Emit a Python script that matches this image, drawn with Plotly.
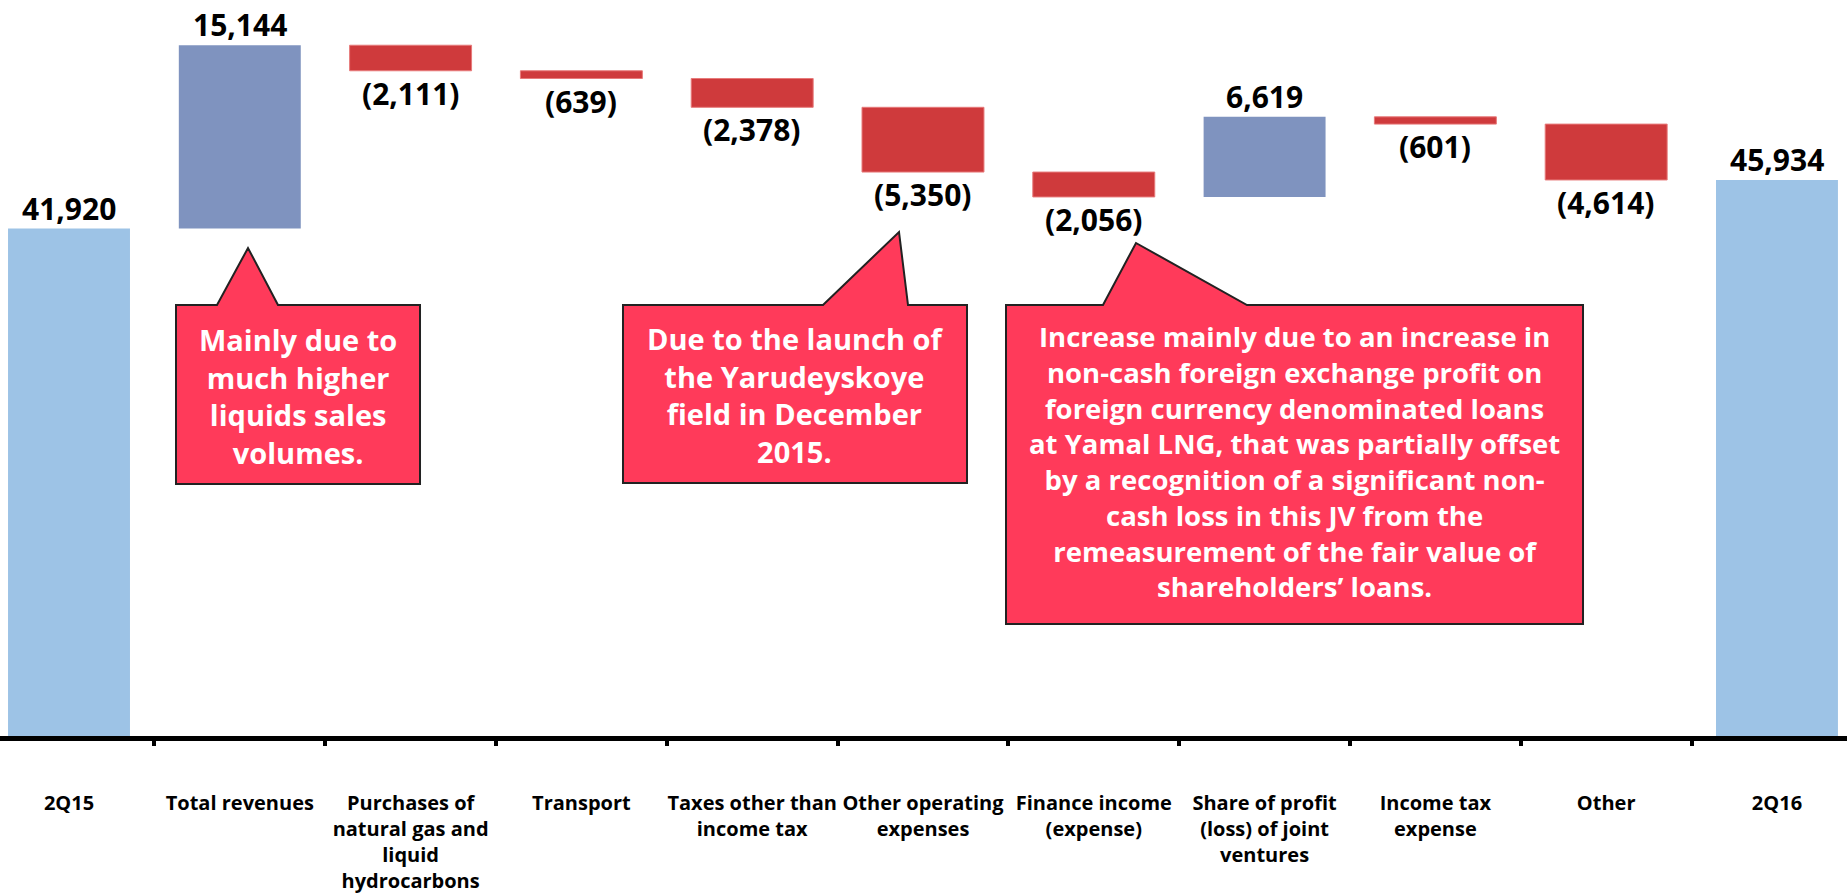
import plotly.graph_objects as go

# ---------------- data ----------------
categories = ["2Q15", "Total revenues", "Purchases", "Transport", "Taxes other",
              "Other operating", "Finance income", "Share of JV", "Income tax",
              "Other", "2Q16"]
tick_labels = ["2Q15", "Total revenues",
               "Purchases of<br>natural gas and<br>liquid<br>hydrocarbons",
               "Transport", "Taxes other than<br>income tax",
               "Other operating<br>expenses", "Finance income<br>(expense)",
               "Share of profit<br>(loss) of joint<br>ventures",
               "Income tax<br>expense", "Other", "2Q16"]
values = [41920, 15144, -2111, -639, -2378, -5350, -2056, 6619, -601, -4614, 45934]
measures = ["absolute", "relative", "relative", "relative", "relative", "relative",
            "relative", "relative", "relative", "relative", "total"]

callout_texts = [
    "Mainly due to<br>much higher<br>liquids sales<br>volumes.",
    "Due to the launch of<br>the Yarudeyskoye<br>field in December<br>2015.",
    "Increase mainly due to an increase in<br>non-cash foreign exchange profit on<br>"
    "foreign currency denominated loans<br>at Yamal LNG, that was partially offset<br>"
    "by a recognition of a significant non-<br>cash loss in this JV from the<br>"
    "remeasurement of the fair value of<br>shareholders\u2019 loans.",
]

# ---------------- styles ----------------
C_TOTAL = "#9DC3E6"
C_UP = "#7F93BF"
C_DOWN = "#CF3A3C"
C_CALLOUT = "#FF3A5A"
FONT = "Open Sans"

W, H = 1847, 893
M_B = 157
PLOT_H = H - M_B
PLOT_W = W

# waterfall geometry from the values
bases, heights, colors, lcolors, lwidths, labels = [], [], [], [], [], []
running = 0
for v, m in zip(values, measures):
    if m == "absolute":
        bases.append(0); heights.append(v); running = v
        colors.append(C_TOTAL); lcolors.append(C_TOTAL); lwidths.append(0)
    elif m == "total":
        bases.append(0); heights.append(v)
        colors.append(C_TOTAL); lcolors.append(C_TOTAL); lwidths.append(0)
    else:
        bases.append(running); heights.append(v); running += v
        if v >= 0:
            colors.append(C_UP); lcolors.append(C_UP); lwidths.append(0)
        else:
            colors.append(C_DOWN); lcolors.append("#E77A7A"); lwidths.append(1)
    labels.append(f"{v:,}" if v >= 0 else f"({-v:,})")

fig = go.Figure()
fig.add_trace(go.Bar(
    x=categories, y=heights, base=bases,
    width=0.714,
    marker=dict(color=colors, line=dict(color=lcolors, width=lwidths)),
    cliponaxis=False, hoverinfo="skip", showlegend=False,
))

annotations = []
# value labels at the end of each bar
for cat, b, h, lab in zip(categories, bases, heights, labels):
    end = b + h
    pos = h >= 0
    annotations.append(dict(
        x=cat, y=end, xref="x", yref="y", text=lab, showarrow=False,
        xanchor="center", yanchor="bottom" if pos else "top",
        yshift=-2 if pos else 0,
        font=dict(family=FONT, size=30, color="black", weight=700)))


def px(xp):
    return xp / PLOT_W


def py(yp):
    return 1 - yp / PLOT_H


def path(points):
    return "M " + " L ".join(f"{px(a):.5f},{py(b):.5f}" for a, b in points) + " Z"


callouts = [
    dict(l=176, r=420, t=305, b=484, bl=217, ax=248, ay=248, br=278, fs=29, dy=1),
    dict(l=623, r=967, t=305, b=483, bl=823, ax=899, ay=232, br=908, fs=29, dy=1),
    dict(l=1006, r=1583, t=305, b=624, bl=1103, ax=1136, ay=243, br=1247, fs=27.5, dy=-3),
]
shapes = []
for c, txt in zip(callouts, callout_texts):
    pts = [(c["l"], c["t"]), (c["bl"], c["t"]), (c["ax"], c["ay"]), (c["br"], c["t"]),
           (c["r"], c["t"]), (c["r"], c["b"]), (c["l"], c["b"])]
    shapes.append(dict(type="path", xref="paper", yref="paper", path=path(pts),
                       fillcolor=C_CALLOUT, line=dict(color="#222222", width=2),
                       layer="above"))
    annotations.append(dict(xref="paper", yref="paper",
                            x=px((c["l"] + c["r"]) / 2),
                            y=py((c["t"] + c["b"]) / 2 + c["dy"]),
                            xanchor="center", yanchor="middle", showarrow=False,
                            text=txt, align="center",
                            font=dict(family=FONT, size=c["fs"], color="white", weight=700)))

fig.update_layout(
    width=W, height=H,
    margin=dict(l=0, r=0, t=0, b=M_B, pad=0),
    paper_bgcolor="white", plot_bgcolor="white",
    shapes=shapes, annotations=annotations,
    xaxis=dict(type="category", range=[-0.404, 10.41],
               tickmode="array", tickvals=categories, ticktext=tick_labels,
               tickson="boundaries", ticks="outside", ticklen=5, tickwidth=4,
               tickcolor="black", showline=True, linecolor="black", linewidth=5,
               showgrid=False, zeroline=False, ticklabelstandoff=45,
               automargin=False,
               tickfont=dict(family=FONT, size=20, color="black", weight=700),
               tickangle=0, fixedrange=True),
    yaxis=dict(range=[0, 60800], visible=False, showgrid=False, zeroline=False,
               fixedrange=True, automargin=False),
)

fig.write_html(
    "out.html",
    config={"displayModeBar": False},
    post_script="document.documentElement.style.margin='0';"
                "document.body.style.margin='0';"
                "document.body.style.overflow='hidden';",
)
